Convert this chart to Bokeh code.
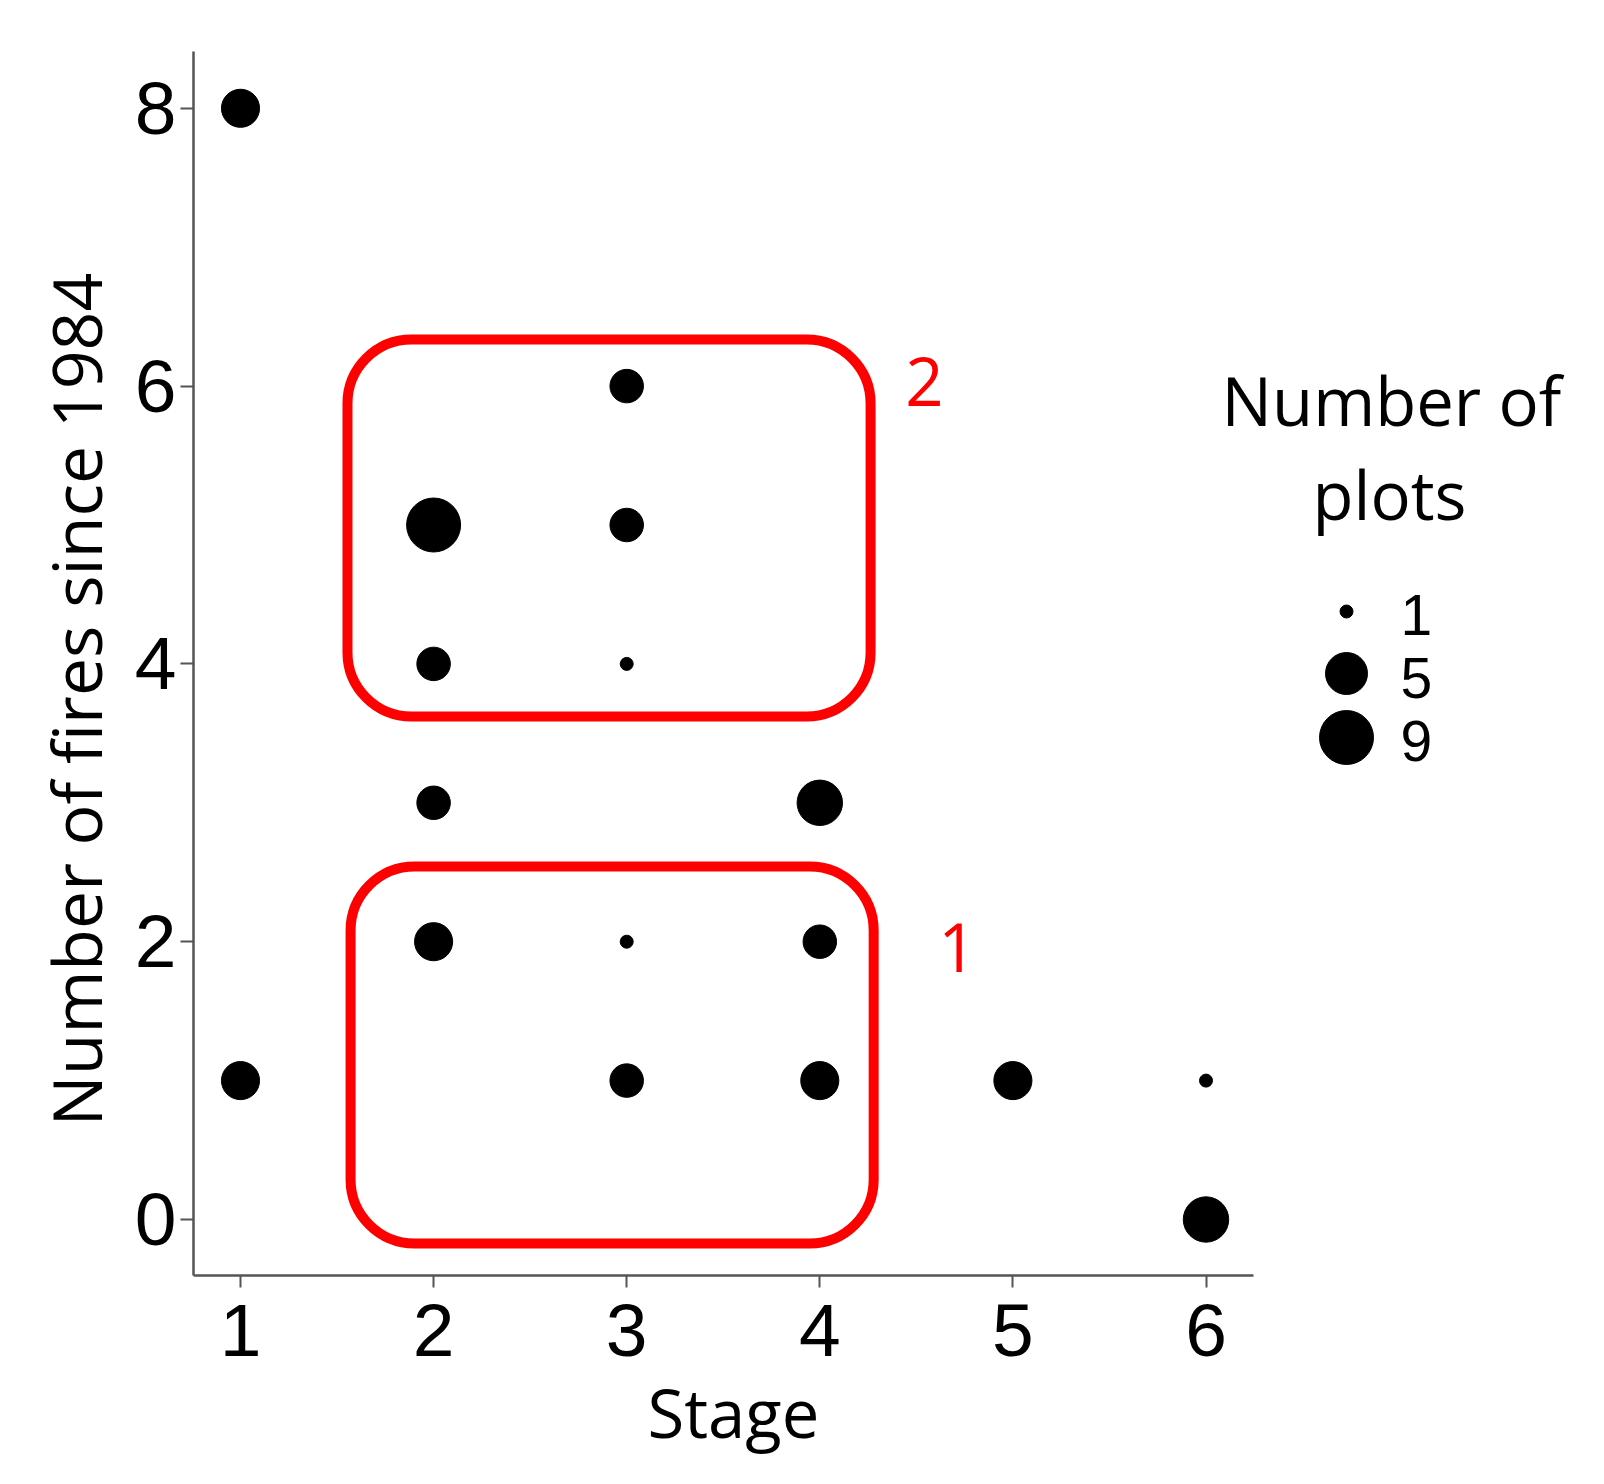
import math
from bokeh.plotting import figure
from bokeh.models import Label, FixedTicker, Range1d, ColumnDataSource, Title
from bokeh.embed import file_html
from bokeh.resources import INLINE

# ---- data ----
stage = [1, 1, 2, 2, 2, 2, 3, 3, 3, 3, 3, 4, 4, 4, 5, 6, 6]
fires = [8, 1, 5, 4, 3, 2, 6, 5, 4, 2, 1, 3, 2, 1, 1, 1, 0]
n_plots = [4, 4, 9, 3, 3, 4, 3, 3, 1, 1, 3, 6, 3, 4, 4, 1, 6]

x_ticks = [1, 2, 3, 4, 5, 6]
y_ticks = [0, 2, 4, 6, 8]
legend_values = [1, 5, 9]
legend_title = ["Number of", "plots"]
x_title = "Stage"
y_title = "Number of fires since 1984"

# highlighted groups (data space)
box_labels = ["1", "2"]
box_left = [1.57, 1.554]
box_right = [4.279, 4.263]
box_bottom = [-0.173, 3.621]
box_top = [2.541, 6.335]

# ---- layout helpers (page pixels -> data) ----
X0_PX, X_UNIT = 240.0, 193.1   # page px of x=1, px per unit
Y0_PX, Y_UNIT = 1219.0, 138.9  # page px of y=0, px per unit


def to_x(px):
    return 1 + (px - X0_PX) / X_UNIT


def to_y(py):
    return (Y0_PX - py) / Y_UNIT


vmin, vmax = min(n_plots), max(n_plots)


def size_of(v):
    return 13 + 41 * math.sqrt((v - vmin) / (vmax - vmin))


W, H = 1600, 1480
FL, FT, FB = 193, 51, 1275
p = figure(width=W, height=H, output_backend="svg", toolbar_location=None,
           x_range=Range1d(to_x(FL), to_x(W)),
           y_range=Range1d(to_y(FB), to_y(FT)),
           min_border_left=FL, min_border_right=0,
           min_border_top=FT, min_border_bottom=H - FB)
p.outline_line_color = None
p.xgrid.visible = False
p.ygrid.visible = False
p.background_fill_color = "white"

for ax in (p.xaxis, p.yaxis):
    ax.minor_tick_line_color = None
    ax.major_tick_in = 0
    ax.axis_line_color = "#555555"
    ax.axis_line_width = 2.5
    ax.major_tick_line_color = "#555555"
    ax.major_tick_line_width = 2
    ax.major_label_text_font = "Liberation Sans"
    ax.major_label_text_font_size = "75px"
    ax.major_label_text_color = "black"

p.xaxis.ticker = FixedTicker(ticks=x_ticks)
p.yaxis.ticker = FixedTicker(ticks=y_ticks)
p.xaxis.major_tick_out = 12
p.yaxis.major_tick_out = 13
p.xaxis.major_label_standoff = 17
p.yaxis.major_label_standoff = 4
p.xaxis.bounds = (to_x(FL), to_x(1253))

# axis titles as side-panel titles
p.add_layout(Title(text=x_title, align="left", offset=647 - FL,
                   text_font="Open Sans", text_font_size="67px",
                   text_font_style="normal", text_color="black", standoff=10), "below")
p.add_layout(Title(text=y_title, align="left", offset=FB - 1126,
                   text_font="Open Sans", text_font_size="68px",
                   text_font_style="normal", text_color="black", standoff=19), "left")

# red rounded boxes
p.quad(left=box_left, right=box_right, bottom=box_bottom, top=box_top,
       fill_color=None, line_color="#ff0000", line_width=10, border_radius=64)

# points
src = ColumnDataSource(dict(x=stage, y=fires, n=n_plots,
                            size=[size_of(v) for v in n_plots]))
p.scatter("x", "y", size="size", source=src, marker="circle",
          fill_color="black", line_color="black")


def add_text(px, py, text, size, font="Open Sans", color="black", align="center"):
    p.add_layout(Label(x=to_x(px), y=to_y(py), text=text, text_align=align,
                       text_baseline="middle", text_font=font,
                       text_font_size=size, text_color=color))


# box labels
add_text(957, 947, box_labels[0], "67px", color="#ff0000")
add_text(924, 381, box_labels[1], "67px", color="#ff0000")

# size legend
add_text(1391, 399, legend_title[0], "67px")
add_text(1389, 493, legend_title[1], "67px")
leg_y_px = [611, 673, 737]
p.scatter(x=[to_x(1346)] * len(legend_values), y=[to_y(v) for v in leg_y_px],
          size=[size_of(v) for v in legend_values], marker="circle",
          fill_color="black", line_color="black")
for v, py in zip(legend_values, [614, 677, 740]):
    add_text(1400, py, str(v), "57px", font="Liberation Sans", align="left")

open("out.html", "w").write(file_html(p, INLINE))
